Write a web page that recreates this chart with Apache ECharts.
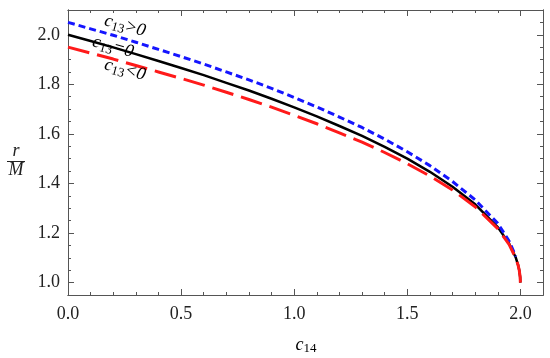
<!DOCTYPE html>
<html>
<head>
<meta charset="utf-8">
<script src="https://cdn.jsdelivr.net/npm/echarts@6/dist/echarts.min.js"></script>
<style>html,body{margin:0;padding:0;background:#fff}#c{width:550px;height:358px}</style>
</head>
<body>
<div id="c"></div>
<script>
// x values (c14)
const c14 = [0,0.1,0.2,0.3,0.4,0.5,0.6,0.7,0.8,0.9,1.0,1.1,1.2,1.3,1.4,1.5,1.6,1.7,1.8,1.9,1.95,1.98,1.99,1.995,1.999,2.0];
// r/M for c13 = 0
const rZero = [2.000,1.975,1.949,1.922,1.894,1.866,1.837,1.806,1.775,1.742,1.707,1.671,1.632,1.592,1.548,1.500,1.447,1.387,1.316,1.224,1.158,1.100,1.071,1.050,1.022,1.000];
// r/M for c13 > 0
const rPos = [2.050,2.024,1.998,1.970,1.941,1.912,1.882,1.850,1.818,1.784,1.747,1.709,1.668,1.626,1.579,1.528,1.472,1.408,1.334,1.239,1.168,1.105,null,null,null,null];
// r/M for c13 < 0
const rNeg = [1.950,1.926,1.902,1.876,1.850,1.824,1.797,1.768,1.739,1.708,1.675,1.641,1.604,1.567,1.525,1.480,1.430,1.374,1.306,1.218,1.154,1.098,1.070,1.050,1.022,1.000];
// tick labels
const xTicks = [0,0.5,1.0,1.5,2.0];
const yTicks = [1.0,1.2,1.4,1.6,1.8,2.0];

const zip = ys => c14.map((x,i)=> ys[i]==null ? [x,null] : [x, ys[i]]);
const axisCol = '#555';
const serif = 'Liberation Serif';

function mkX(pos, major, labels){
  return {
    type:'value', position:pos, min:0, max:2.1,
    axisLine:{show:true, onZero:false, lineStyle:{color:axisCol, width:1}},
    splitLine:{show:false},
    axisTick: major ? {show:true, inside:true, length:6, customValues:xTicks, lineStyle:{color:axisCol}}
                    : {show:true, inside:true, length:3, interval:0, lineStyle:{color:axisCol}},
    interval: major ? undefined : 0.1,
    axisLabel: labels ? {show:true, customValues:xTicks, formatter:v=>v.toFixed(1), fontFamily:serif, fontSize:18, color:'#222', margin:10}
                      : {show:false}
  };
}
function mkY(pos, major, labels){
  return {
    type:'value', position:pos, min:0.95, max:2.1,
    axisLine:{show:true, onZero:false, lineStyle:{color:axisCol, width:1}},
    splitLine:{show:false},
    axisTick: major ? {show:true, inside:true, length:6, customValues:yTicks, lineStyle:{color:axisCol}}
                    : {show:true, inside:true, length:3, interval:0, lineStyle:{color:axisCol}},
    interval: major ? undefined : 0.05,
    axisLabel: labels ? {show:true, customValues:yTicks, formatter:v=>v.toFixed(1), fontFamily:serif, fontSize:18, color:'#222', margin:8}
                      : {show:false}
  };
}

const rich = (col)=>({
  i:{fontFamily:serif, fontStyle:'italic', fontSize:18, lineHeight:20, color:col},
  s:{fontFamily:serif, fontSize:13, lineHeight:13, padding:[8,0,0,0], color:col}
});

const chart = echarts.init(document.getElementById('c'), null, {renderer:'canvas'});
chart.setOption({
  animation:false,
  backgroundColor:'#fff',
  grid:{left:68, right:7, top:10, bottom:63, containLabel:false},
  xAxis:[mkX('bottom',true,true), mkX('bottom',false,false), mkX('top',true,false), mkX('top',false,false)],
  yAxis:[mkY('left',true,true), mkY('left',false,false), mkY('right',true,false), mkY('right',false,false)],
  series:[
    {type:'line', name:'c13=0', data:zip(rZero), showSymbol:false, xAxisIndex:0, yAxisIndex:0,
     lineStyle:{color:'#000', width:2.5}},
    {type:'line', name:'c13>0', data:zip(rPos), showSymbol:false, connectNulls:false, xAxisIndex:0, yAxisIndex:0,
     lineStyle:{color:'#1515ff', width:3, type:[7,4], cap:'butt'}},
    {type:'line', name:'c13<0', data:zip(rNeg), showSymbol:false, xAxisIndex:0, yAxisIndex:0,
     lineStyle:{color:'#ff1a1a', width:3, type:[22,8], cap:'butt'}}
  ],
  graphic:[
    {type:'text', x:125, y:26, rotation:-0.27, z:100,
     style:{text:'{i|c}{s|13}{i|>0}', rich:rich('#1515ff'), align:'center', verticalAlign:'middle'}},
    {type:'text', x:113, y:47, rotation:-0.27, z:100,
     style:{text:'{i|c}{s|13}{i|=0}', rich:rich('#000'), align:'center', verticalAlign:'middle'}},
    {type:'text', x:125, y:70, rotation:-0.27, z:100,
     style:{text:'{i|c}{s|13}{i|<0}', rich:rich('#ff1a1a'), align:'center', verticalAlign:'middle'}},
    {type:'text', x:306, y:345, z:100,
     style:{text:'{i|c}{s|14}', rich:rich('#222'), align:'center', verticalAlign:'middle'}},
    {type:'text', x:16, y:151, z:100,
     style:{text:'r', fontFamily:serif, fontStyle:'italic', fontSize:18, fill:'#222', align:'center', verticalAlign:'middle'}},
    {type:'line', z:100, shape:{x1:7, y1:161.5, x2:25, y2:161.5}, style:{stroke:'#222', lineWidth:1}},
    {type:'text', x:16, y:170, z:100,
     style:{text:'M', fontFamily:serif, fontStyle:'italic', fontSize:18, fill:'#222', align:'center', verticalAlign:'middle'}}
  ]
});
</script>
</body>
</html>
